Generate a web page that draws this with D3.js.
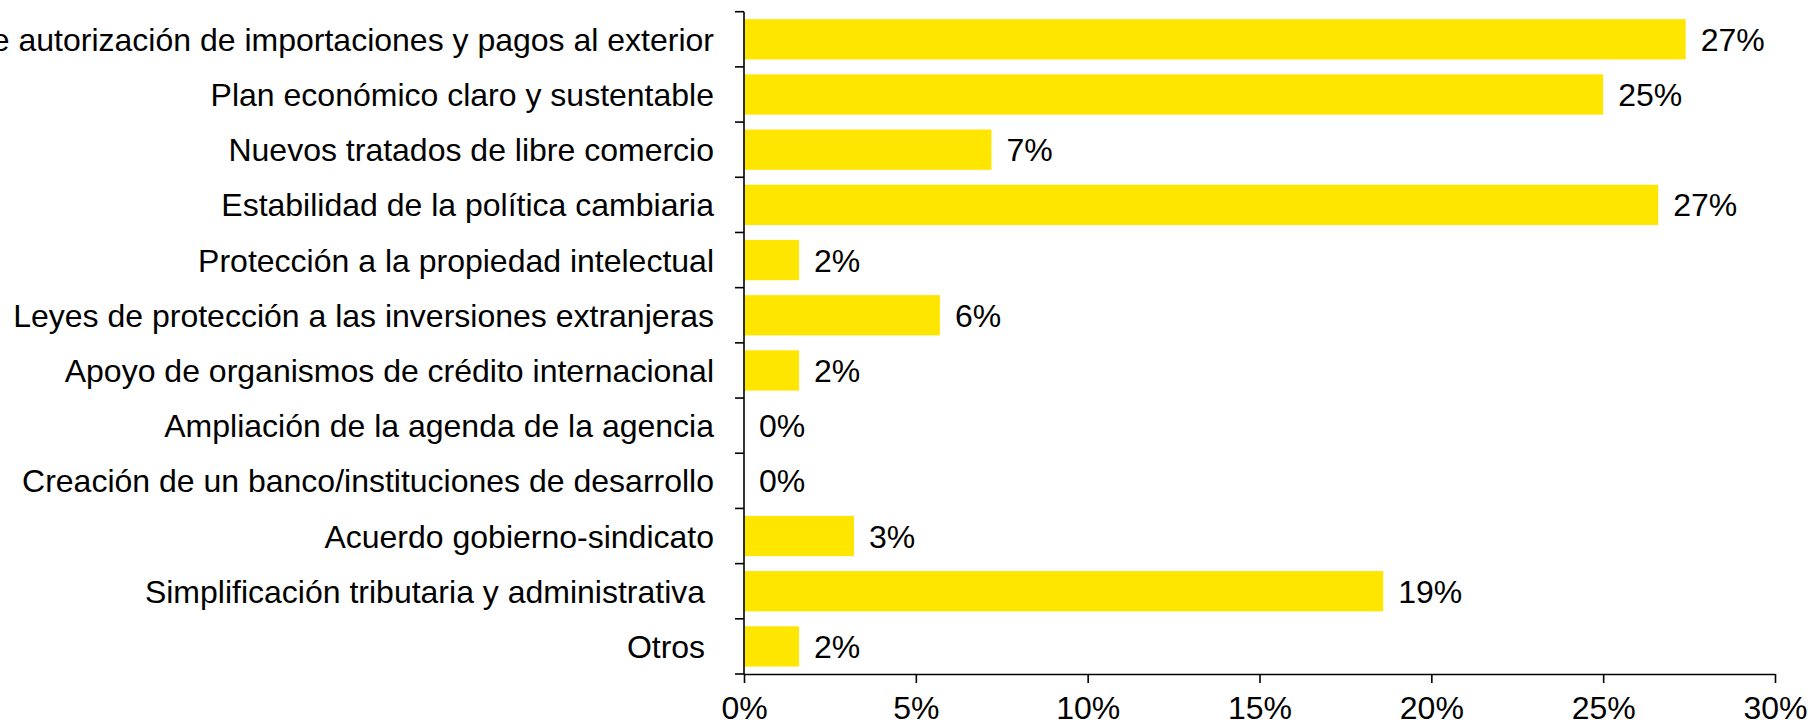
<!DOCTYPE html>
<html>
<head>
<meta charset="utf-8">
<script src="https://cdn.jsdelivr.net/npm/d3@7"></script>
<style>
  html, body { margin: 0; padding: 0; background: #fff; }
  svg text { font-family: "Liberation Sans", Arial, sans-serif; white-space: pre; }
</style>
</head>
<body>
<svg id="chart" width="1813" height="726"></svg>
<script>
const categories = [
    "de autorización de importaciones y pagos al exterior",
    "Plan económico claro y sustentable",
    "Nuevos tratados de libre comercio",
    "Estabilidad de la política cambiaria",
    "Protección a la propiedad intelectual",
    "Leyes de protección a las inversiones extranjeras",
    "Apoyo de organismos de crédito internacional",
    "Ampliación de la agenda de la agencia",
    "Creación de un banco/instituciones de desarrollo",
    "Acuerdo gobierno-sindicato",
    "Simplificación tributaria y administrativa ",
    "Otros "
];
const values = [27.4, 25.0, 7.2, 26.6, 1.6, 5.7, 1.6, 0, 0, 3.2, 18.6, 1.6];
const valueLabels = ["27%", "25%", "7%", "27%", "2%", "6%", "2%", "0%", "0%", "3%", "19%", "2%"];
const xTicks = [0, 5, 10, 15, 20, 25, 30];

const margin = { top: 11.7, left: 744, right: 38, bottom: 52 };
const width = 1813, height = 726;

const svg = d3.select("#chart");

const x = d3.scaleLinear()
    .domain([0, 30])
    .range([margin.left, width - margin.right]);

const y = d3.scaleBand()
    .domain(categories)
    .range([margin.top, height - margin.bottom])
    .paddingInner(0.27)
    .paddingOuter(0.135);

// bars
svg.append("g")
    .selectAll("rect")
    .data(values)
    .join("rect")
    .attr("x", x(0))
    .attr("y", (d, i) => y(categories[i]))
    .attr("width", d => x(d) - x(0))
    .attr("height", y.bandwidth())
    .attr("fill", "#FFE600");

// value labels
svg.append("g")
    .selectAll("text")
    .data(values)
    .join("text")
    .attr("x", d => x(d) + 15)
    .attr("y", (d, i) => y(categories[i]) + y.bandwidth() / 2)
    .attr("dy", "0.36em")
    .attr("font-size", 32)
    .attr("fill", "#000")
    .text((d, i) => valueLabels[i]);

// y axis, ticks sit on the band edges
const yAxisG = svg.append("g");
yAxisG.append("line")
    .attr("x1", x(0)).attr("x2", x(0))
    .attr("y1", margin.top).attr("y2", height - margin.bottom)
    .attr("stroke", "#000").attr("stroke-width", 1.6);

const step = y.step();
const edges = d3.range(categories.length + 1).map(i => margin.top + i * step);
yAxisG.selectAll("line.tick")
    .data(edges)
    .join("line")
    .attr("class", "tick")
    .attr("x1", x(0) - 9).attr("x2", x(0))
    .attr("y1", d => d).attr("y2", d => d)
    .attr("stroke", "#000").attr("stroke-width", 1.6);

yAxisG.selectAll("text")
    .data(categories)
    .join("text")
    .attr("x", x(0) - 30)
    .attr("y", d => y(d) + y.bandwidth() / 2)
    .attr("dy", "0.36em")
    .attr("text-anchor", "end")
    .attr("font-size", 32)
    .attr("fill", "#000")
    .text(d => d);

// x axis
const xAxis = d3.axisBottom(x)
    .tickValues(xTicks)
    .tickSize(9)
    .tickSizeOuter(0)
    .tickPadding(13)
    .tickFormat(d => d + "%");

const xAxisG = svg.append("g")
    .attr("transform", `translate(0,${height - margin.bottom})`)
    .call(xAxis);
xAxisG.select(".domain").attr("stroke", "#000").attr("stroke-width", 1.6);
xAxisG.selectAll(".tick line").attr("stroke", "#000").attr("stroke-width", 1.6);
xAxisG.selectAll(".tick text")
    .attr("font-size", 32)
    .attr("font-family", "Liberation Sans, Arial, sans-serif")
    .attr("fill", "#000");
</script>
</body>
</html>
